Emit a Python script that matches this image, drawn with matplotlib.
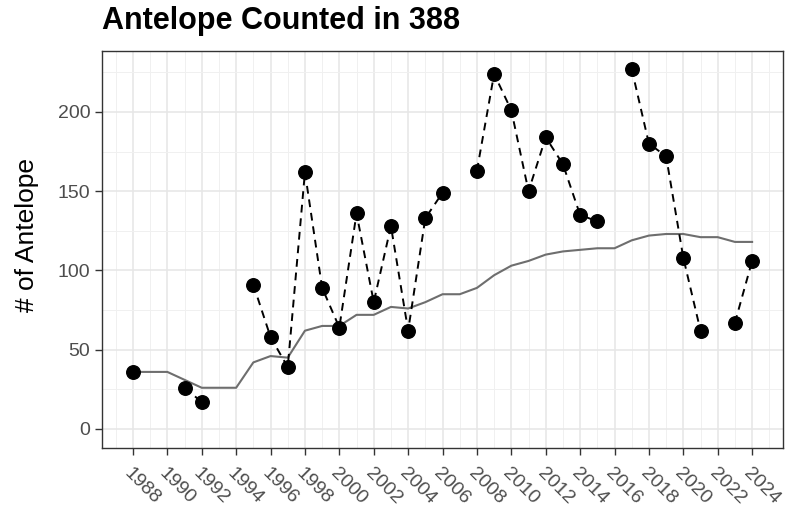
import numpy as np
import matplotlib.pyplot as plt
from matplotlib.ticker import MultipleLocator

plt.rcParams['font.family'] = ['Liberation Sans', 'DejaVu Sans']

# observed counts (NaN = no survey that year)
years = list(range(1988, 2025))
counts = [36, np.nan, np.nan, 26, 17, np.nan, np.nan, 91, 58, 39,
          162, 89, 64, 136, 80, 128, 62, 133, 149, np.nan,
          163, 224, 201, 150, 184, 167, 135, 131, np.nan, 227,
          180, 172, 108, 62, np.nan, 67, 106]

# running average line
avg = [36, 36, 36, 31, 26, 26, 26, 42, 46, 45,
       62, 65, 65, 72, 72, 77, 76, 80, 85, 85,
       89, 97, 103, 106, 110, 112, 113, 114, 114, 119,
       122, 123, 123, 121, 121, 118, 118]

fig = plt.figure(figsize=(7.87, 5.14), dpi=100)
ax = fig.add_axes([0.1296, 0.129, 0.8654, 0.772])

ax.plot(years, avg, color='#6e6e6e', lw=1.5, zorder=3)
ax.plot(years, counts, color='black', lw=1.4, ls=(0, (4, 3)), zorder=4)
ax.scatter(years, counts, s=95, color='black', zorder=5)

ax.set_xlim(1986.2, 2025.8)
ax.set_ylim(-11.8, 238.5)
ax.xaxis.set_minor_locator(MultipleLocator(1))
ax.yaxis.set_major_locator(MultipleLocator(50))
ax.yaxis.set_minor_locator(MultipleLocator(25))
ax.set_xticks(range(1988, 2025, 2))
ax.set_xticklabels([str(y) for y in range(1988, 2025, 2)], rotation=-45,
                   ha='left', va='top', rotation_mode='anchor', fontsize=15.5)

ax.grid(which='major', color='#e6e6e6', lw=1.1)
ax.grid(which='minor', color='#f0f0f0', lw=0.7)
ax.set_axisbelow(True)
ax.tick_params(which='major', length=5, width=1, color='#333333',
               labelsize=14, labelcolor='#4d4d4d')
ax.tick_params(axis='x', pad=7)
ax.tick_params(which='minor', length=0)
for s in ax.spines.values():
    s.set_color('#333333')
    s.set_linewidth(1)

fig.text(27 / 787, 1 - 235 / 514, '# of Antelope', fontsize=19,
         rotation=90, ha='center', va='center')
fig.text(0.1296, 1 - 29 / 514, 'Antelope Counted in 388', fontsize=22,
         fontweight='bold', ha='left', va='baseline')

fig.savefig('out.png', dpi=100)
